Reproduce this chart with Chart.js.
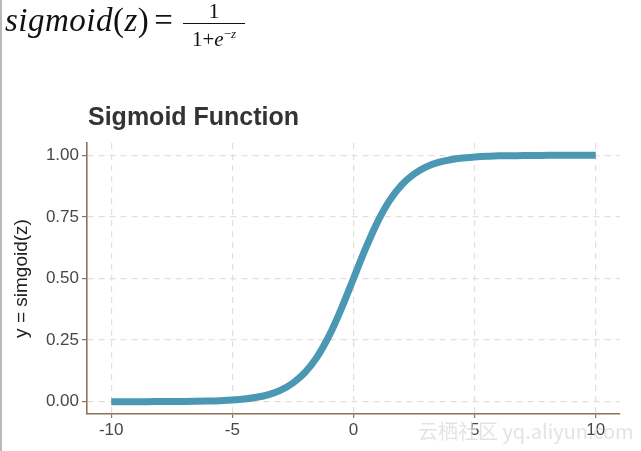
<!DOCTYPE html>
<html>
<head>
<meta charset="utf-8">
<script src="https://cdn.jsdelivr.net/npm/chart.js@4/dist/chart.umd.min.js"></script>
<style>
  body { margin: 0; background: #fff; }
  #wrap { position: relative; width: 641px; height: 451px; overflow: hidden; }
  #edge { position: absolute; left: 0; top: 0; width: 2px; height: 451px; background: #b9b9b9; }
  #formula { position: absolute; left: 5px; top: 0px; font-family: "Liberation Serif", "DejaVu Serif", serif; font-size: 33px; line-height: 40px; color: #111; white-space: nowrap; letter-spacing: 0.5px; }
  #formula i { font-style: italic; }
  .eq { margin: 0 3px 0 5px; }
  .frac { position: absolute; left: 178px; top: 0px; width: 62px; text-align: center; letter-spacing: 0; }
  .frac .num { position: absolute; left: 0; top: 1px; width: 62px; font-size: 22px; line-height: 20px; }
  .frac .bar { position: absolute; left: 0; top: 23px; width: 62px; height: 1px; background: #111; }
  .frac .den { position: absolute; left: 0; top: 23px; width: 62px; font-size: 21px; line-height: 22px; }
  .frac sup { font-size: 13px; }
  #title { position: absolute; left: 88px; top: 102px; font-family: "Liberation Sans", Arial, sans-serif; font-weight: bold; font-size: 25px; color: #333; }
  #mark { position: absolute; left: 418px; top: 416px; font-family: "Noto Sans CJK SC", "Liberation Sans", sans-serif; font-size: 20px; color: rgba(220,220,220,0.8); white-space: nowrap; }
</style>
</head>
<body>
<div id="wrap">
  <canvas id="myChart" width="641" height="451"></canvas>
  <div id="edge"></div>
  <div id="formula"><i>sigmoid</i>(<i>z</i>)<span class="eq">=</span><span class="frac"><span class="num">1</span><span class="bar"></span><span class="den">1+<i>e</i><sup>&minus;<i>z</i></sup></span></span></div>
  <div id="title">Sigmoid Function</div>
  <div id="mark">云栖社区 yq.aliyun.com</div>
</div>
<script>
// valeurs
var zValues = [-10, -9.5, -9, -8.5, -8, -7.5, -7, -6.5, -6, -5.5, -5, -4.5, -4, -3.5, -3, -2.5, -2, -1.5, -1, -0.5,
  0, 0.5, 1, 1.5, 2, 2.5, 3, 3.5, 4, 4.5, 5, 5.5, 6, 6.5, 7, 7.5, 8, 8.5, 9, 9.5, 10]
var yValues = [0.0000, 0.0001, 0.0001, 0.0002, 0.0003, 0.0006, 0.0009, 0.0015, 0.0025, 0.0041, 0.0067, 0.011, 0.018, 0.029, 0.047, 0.076, 0.119, 0.182, 0.269, 0.378,
  0.500, 0.622, 0.731, 0.818, 0.881, 0.924, 0.953, 0.971, 0.982, 0.989, 0.993, 0.996, 0.998, 0.998, 0.999, 0.999, 1.000, 1.000, 1.000, 1.000, 1.000]
var xTicks = [-10, -5, 0, 5, 10]
var yTicks = [0, 0.25, 0.5, 0.75, 1]

var points = []
for (let i = 0; i < zValues.length; i++) {
  points.push({x: zValues[i], y: yValues[i]})
}

var brown = '#8c7358'
var gridCol = '#e6dfd9'
var tickFont = {family: '"Liberation Sans", Arial, sans-serif', size: 17}

const ctx = document.getElementById('myChart').getContext('2d')
const myChart = new Chart(ctx, {
  type: 'line',
  data: {
    datasets: [{
      label: 'sigmoid',
      data: points,
      borderColor: '#4a98b3',
      borderWidth: 7,
      pointRadius: 0,
      fill: false,
      cubicInterpolationMode: 'monotone'
    }]
  },
  options: {
    responsive: false,
    animation: false,
    layout: {padding: {top: 143, right: 21, left: 0, bottom: 0}},
    plugins: {legend: {display: false}, tooltip: {enabled: false}},
    scales: {
      x: {
        type: 'linear',
        min: -11,
        max: 11,
        afterBuildTicks: function (axis) { axis.ticks = xTicks.map(v => ({value: v})) },
        afterFit: function (axis) { axis.height = 37 },
        ticks: {color: '#474747', font: tickFont, padding: 2, maxRotation: 0},
        grid: {color: gridCol, lineWidth: 1.2, tickColor: brown, tickLength: 4, tickBorderDash: [], tickWidth: 1.2},
        border: {color: brown, width: 1.6, dash: [6, 5]}
      },
      y: {
        min: -0.05,
        max: 1.05,
        afterBuildTicks: function (axis) { axis.ticks = yTicks.map(v => ({value: v})) },
        afterFit: function (axis) { axis.width = 87 },
        ticks: {color: '#474747', font: tickFont, padding: 3, callback: v => v.toFixed(2)},
        grid: {color: gridCol, lineWidth: 1.2, tickColor: brown, tickLength: 5, tickBorderDash: [], tickWidth: 1.2},
        border: {color: brown, width: 1.6, dash: [6, 5]},
        title: {display: true, text: 'y = simgoid(z)', color: '#222', font: {family: '"Liberation Sans", Arial, sans-serif', size: 19}, padding: {top: 10, bottom: 0}}
      }
    }
  }
})
</script>
</body>
</html>
